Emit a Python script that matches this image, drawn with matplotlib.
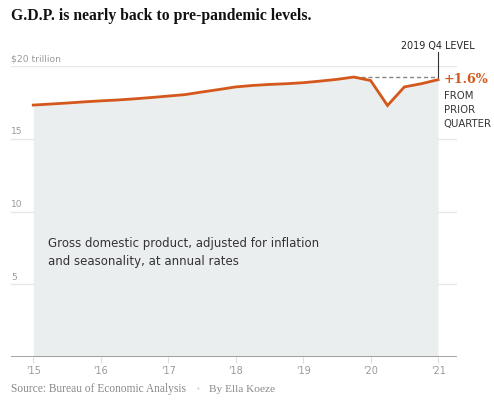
import matplotlib
matplotlib.use("Agg")
import matplotlib.pyplot as plt
import numpy as np
from matplotlib.transforms import offset_copy

# ---- data ----
quarters = ["2015Q1", "2015Q2", "2015Q3", "2015Q4",
            "2016Q1", "2016Q2", "2016Q3", "2016Q4",
            "2017Q1", "2017Q2", "2017Q3", "2017Q4",
            "2018Q1", "2018Q2", "2018Q3", "2018Q4",
            "2019Q1", "2019Q2", "2019Q3", "2019Q4",
            "2020Q1", "2020Q2", "2020Q3", "2020Q4",
            "2021Q1"]
gdp = [17.33, 17.40, 17.47, 17.55,
       17.62, 17.68, 17.76, 17.85,
       17.95, 18.05, 18.23, 18.40,
       18.58, 18.68, 18.75, 18.80,
       18.87, 18.98, 19.10, 19.26,
       19.02, 17.30, 18.58, 18.80,
       19.08]
year_ticks = [2015, 2016, 2017, 2018, 2019, 2020, 2021]
year_labels = ["'15", "'16", "'17", "'18", "'19", "'20", "'21"]
y_ticks = [5, 10, 15, 20]
y_labels = ["5", "10", "15", "$20 trillion"]
peak_label = "2019 Q4 LEVEL"
change_label = "+1.6%"

x = np.array([int(q[:4]) + (int(q[-1]) - 1) / 4 for q in quarters])
y = np.array(gdp)

W, H = 494, 405
fig = plt.figure(figsize=(W / 100, H / 100), dpi=100)
ax = fig.add_axes([11 / W, (H - 356.7) / H, 446 / W, (356.7 - 66.3) / H])
ax.set_xlim(2014.67, 2021.28)
ax.set_ylim(0, 20)
for s in ax.spines.values():
    s.set_visible(False)
ax.set_yticks([])
ax.set_xticks(year_ticks)
ax.set_xticklabels(year_labels, fontsize=7, color="#999999", family="DejaVu Sans")
ax.tick_params(axis="x", length=4, color="#dddddd", width=0.8, pad=3)

orange = "#d4571c"
# gridlines
for v in y_ticks:
    ax.axhline(v, color="#e6e6e6", lw=0.9, zorder=0)
# y labels
for v, lab in zip(y_ticks, y_labels):
    ax.text(0.0, v, lab, transform=offset_copy(ax.get_yaxis_transform(), fig=fig, y=1.8, units="points"),
            ha="left", va="bottom", fontsize=6.6, color="#999999")

ax.fill_between(x, 0, y, color="#ebeeef", lw=0, zorder=1)
ax.axhline(0, color="#888888", lw=1.8, zorder=3)
ax.plot(x, y, color=orange, lw=2.0, zorder=4, solid_joinstyle="miter")

# peak dashed level
peak = y[quarters.index("2019Q4")]
ax.plot([x[quarters.index("2019Q4")], x[-1]], [peak, peak], color="#888888", lw=1.0,
        dashes=(3, 2), zorder=3)
ax.plot([x[-1], x[-1]], [peak, 20.97], color="#333333", lw=0.8, zorder=3, clip_on=False)
ax.text(x[-1], 21.08, peak_label, ha="center", va="bottom", fontsize=6.9, color="#222222",
        clip_on=False)

# +1.6% annotation
ax.annotate(change_label, xy=(x[-1], y[-1]), xytext=(4, 0), textcoords="offset points",
            ha="left", va="center", fontsize=9.2, color=orange, fontweight="bold",
            family="DejaVu Serif", annotation_clip=False)
ax.annotate("FROM\nPRIOR\nQUARTER", xy=(x[-1], y[-1]), xytext=(4, -8.5), textcoords="offset points",
            ha="left", va="top", fontsize=7.3, color="#333333", linespacing=1.45,
            annotation_clip=False)

# description
ax.text(2015.22, 7.18, "Gross domestic product, adjusted for inflation\nand seasonality, at annual rates",
        ha="left", va="center", fontsize=8.5, color="#333333", linespacing=1.45)

# title
fig.text(11 / W, 1 - 16.5 / H, "G.D.P. is nearly back to pre-pandemic levels.", ha="left", va="center",
         fontsize=11.3, fontweight="bold", family="Liberation Serif", color="#111111")

# source
fig.text(11 / W, 1 - 389 / H, "Source: Bureau of Economic Analysis", ha="left", va="center",
         fontsize=8.3, family="Liberation Serif", color="#888888")
fig.text(198 / W, 1 - 389 / H, "\u2022", ha="center", va="center", fontsize=6, color="#dddddd")
fig.text(209 / W, 1 - 389 / H, "By Ella Koeze", ha="left", va="center",
         fontsize=8.2, family="Liberation Serif", color="#888888")

fig.savefig("out.png", dpi=100)
